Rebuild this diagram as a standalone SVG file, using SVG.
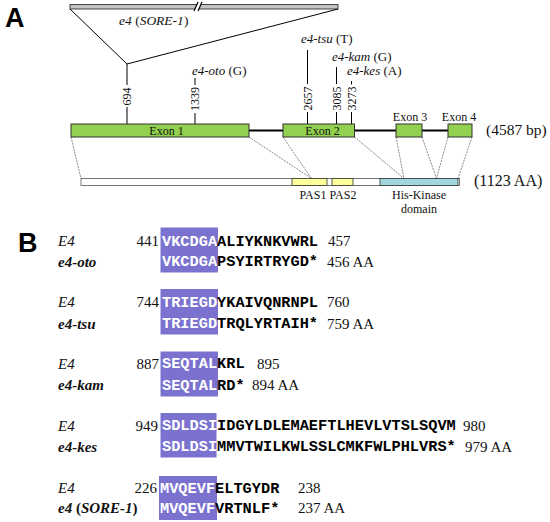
<svg xmlns="http://www.w3.org/2000/svg" width="550" height="522" viewBox="0 0 550 522">
<style>
.ser{font-family:"Liberation Serif","Times New Roman",serif;fill:#111}
.it{font-style:italic}
.bd{font-weight:bold}
.pl{font-family:"Liberation Sans",Arial,sans-serif;font-weight:bold;font-size:27px;fill:#000}
.num{font-family:"Liberation Serif","Times New Roman",serif;font-size:12px;fill:#111;text-anchor:middle}
.exon{fill:#92d050;stroke:#333;stroke-width:1}
.seq{font-family:"Liberation Mono","Courier New",monospace;font-weight:bold;font-size:15.3px;fill:#000}
.hl{fill:#fff}
.box{fill:#7b72cf}
.dot{stroke:#555;stroke-width:0.7;stroke-dasharray:2 1;fill:none}
.ln{stroke:#000;stroke-width:1;fill:none}
.lbl{font-size:15px}
</style>

<text class="pl" x="5" y="27">A</text>
<text class="pl" x="18" y="252">B</text>

<g id="genomic-insert">
  <rect x="70" y="4.5" width="268" height="4.5" fill="#c4c4c4" stroke="#333" stroke-width="0.9"/>
  <polygon points="194,11 198,2 202,2 198,11" fill="#fff"/>
  <line x1="194" y1="11" x2="198" y2="2" stroke="#000" stroke-width="1.2"/>
  <line x1="198" y1="11" x2="202" y2="2" stroke="#000" stroke-width="1.2"/>
  <text class="ser" x="119" y="25" font-size="13.5"><tspan class="it">e4</tspan> (<tspan class="it">SORE-1</tspan>)</text>
</g>

<g id="connectors">
  <line class="ln" x1="70" y1="9" x2="127" y2="64"/>
  <line class="ln" x1="338" y1="9" x2="127" y2="64"/>
  <!-- 694 -->
  <line class="ln" x1="127" y1="64" x2="127" y2="85"/>
  <line class="ln" x1="127" y1="107" x2="127" y2="124"/>
  <!-- 1339 -->
  <line class="ln" x1="195" y1="78" x2="195" y2="85"/>
  <line class="ln" x1="195" y1="113" x2="195" y2="124"/>
  <!-- 2657 -->
  <line class="ln" x1="307.5" y1="50" x2="307.5" y2="84"/>
  <line class="ln" x1="307.5" y1="112" x2="307.5" y2="124"/>
  <!-- 3085 -->
  <line class="ln" x1="336.5" y1="67" x2="336.5" y2="84"/>
  <line class="ln" x1="336.5" y1="112" x2="336.5" y2="124"/>
  <!-- 3273 -->
  <line class="ln" x1="351.5" y1="81" x2="351.5" y2="84.5"/>
  <line class="ln" x1="351.5" y1="112" x2="351.5" y2="124"/>
  <!-- introns -->
  <line x1="249" y1="130.5" x2="283" y2="130.5" stroke="#000" stroke-width="2"/>
  <line x1="354.5" y1="130.5" x2="396" y2="130.5" stroke="#000" stroke-width="2"/>
  <line x1="422" y1="130.5" x2="448" y2="130.5" stroke="#000" stroke-width="2"/>
  <!-- exon to protein mapping -->
  <line class="dot" x1="71" y1="137" x2="81" y2="178.5"/>
  <line class="dot" x1="249" y1="137" x2="311.5" y2="178.5"/>
  <line class="dot" x1="283" y1="137" x2="311.5" y2="178.5"/>
  <line class="dot" x1="354.5" y1="137" x2="404" y2="178.5"/>
  <line class="dot" x1="396" y1="137" x2="404" y2="178.5"/>
  <line class="dot" x1="422" y1="137" x2="436.5" y2="178.5"/>
  <line class="dot" x1="448" y1="137" x2="436.5" y2="178.5"/>
  <line class="dot" x1="472" y1="137" x2="458" y2="178.5"/>
</g>

<g id="mutation-labels">
  <text class="num" transform="translate(131.3,96.5) rotate(-90)">694</text>
  <text class="num" transform="translate(199.3,99) rotate(-90)">1339</text>
  <text class="num" transform="translate(311.8,98.5) rotate(-90)">2657</text>
  <text class="num" transform="translate(340.8,98.5) rotate(-90)">3085</text>
  <text class="num" transform="translate(355.8,98.5) rotate(-90)">3273</text>
  <text class="ser" x="192" y="75" font-size="13"><tspan class="it">e4-oto</tspan> (G)</text>
  <text class="ser" x="301" y="43" font-size="13"><tspan class="it">e4-tsu</tspan> (T)</text>
  <text class="ser" x="332" y="61" font-size="13"><tspan class="it">e4-kam</tspan> (G)</text>
  <text class="ser" x="347" y="75" font-size="13"><tspan class="it">e4-kes</tspan> (A)</text>
</g>

<g id="exon1">
  <rect class="exon" x="71" y="124" width="178" height="13"/>
  <text class="ser" x="166.5" y="134.5" font-size="12" text-anchor="middle">Exon 1</text>
</g>
<g id="exon2">
  <rect class="exon" x="283" y="124" width="71.5" height="13"/>
  <text class="ser" x="322.5" y="134.5" font-size="12" text-anchor="middle">Exon 2</text>
</g>
<g id="exon3">
  <rect class="exon" x="396" y="124" width="26" height="13"/>
  <text class="ser" x="410" y="120.5" font-size="12" text-anchor="middle">Exon 3</text>
</g>
<g id="exon4">
  <rect class="exon" x="448" y="124" width="24" height="13"/>
  <text class="ser" x="459" y="120.5" font-size="12" text-anchor="middle">Exon 4</text>
</g>
<text class="ser" x="486" y="135" font-size="15.5">(4587 bp)</text>

<g id="protein">
  <rect x="81" y="178.5" width="378.5" height="7" fill="#fff" stroke="#555" stroke-width="0.8"/>
  <rect x="292" y="178.5" width="35" height="7" fill="#ffff99" stroke="#333" stroke-width="0.8"/>
  <rect x="332" y="178.5" width="21" height="7" fill="#ffff99" stroke="#333" stroke-width="0.8"/>
  <rect x="380" y="178.5" width="78" height="7" fill="#a0d6dc" stroke="#333" stroke-width="0.8"/>
  <text class="ser" x="313" y="199" font-size="12" text-anchor="middle">PAS1</text>
  <text class="ser" x="343" y="199" font-size="12" text-anchor="middle">PAS2</text>
  <text class="ser" x="419" y="198.5" font-size="12" text-anchor="middle">His-Kinase</text>
  <text class="ser" x="419" y="212.5" font-size="12" text-anchor="middle">domain</text>
  <text class="ser" x="474" y="186" font-size="16">(1123 AA)</text>
</g>

<g id="row-oto">
  <rect class="box" x="160.5" y="227.5" width="57.5" height="45"/>
  <text class="ser it lbl" x="58" y="246">E4</text>
  <text class="ser it bd lbl" x="58" y="266.5">e4-oto</text>
  <text class="ser lbl" x="159" y="246" text-anchor="end">441</text>
  <text class="seq" x="162" y="245.5"><tspan class="hl">VKCDGA</tspan>ALIYKNKVWRL</text>
  <text class="seq" x="162" y="266"><tspan class="hl">VKCDGA</tspan>PSYIRTRYGD*</text>
  <text class="ser lbl" x="328" y="246">457</text>
  <text class="ser lbl" x="327" y="266.5">456 AA</text>
</g>

<g id="row-tsu">
  <rect class="box" x="160.5" y="289" width="57.5" height="45.5"/>
  <text class="ser it lbl" x="58" y="307">E4</text>
  <text class="ser it bd lbl" x="58" y="328.5">e4-tsu</text>
  <text class="ser lbl" x="159" y="307" text-anchor="end">744</text>
  <text class="seq" x="162" y="306.5"><tspan class="hl">TRIEGD</tspan>YKAIVQNRNPL</text>
  <text class="seq" x="162" y="328"><tspan class="hl">TRIEGD</tspan>TRQLYRTAIH*</text>
  <text class="ser lbl" x="327" y="307">760</text>
  <text class="ser lbl" x="327" y="328.5">759 AA</text>
</g>

<g id="row-kam">
  <rect class="box" x="160.5" y="351.5" width="57.5" height="45"/>
  <text class="ser it lbl" x="58" y="368.5">E4</text>
  <text class="ser it bd lbl" x="58" y="390">e4-kam</text>
  <text class="ser lbl" x="159" y="368.5" text-anchor="end">887</text>
  <text class="seq" x="162" y="368"><tspan class="hl">SEQTAL</tspan>KRL</text>
  <text class="seq" x="162" y="389.5"><tspan class="hl">SEQTAL</tspan>RD*</text>
  <text class="ser lbl" x="257" y="368.5">895</text>
  <text class="ser lbl" x="252" y="390">894 AA</text>
</g>

<g id="row-kes">
  <rect class="box" x="160.5" y="413" width="56" height="44.5"/>
  <text class="ser it lbl" x="58" y="430.5">E4</text>
  <text class="ser it bd lbl" x="58" y="451.5">e4-kes</text>
  <text class="ser lbl" x="158" y="430.5" text-anchor="end">949</text>
  <text class="seq" x="162" y="430"><tspan class="hl">SDLDSI</tspan>IDGYLDLEMAEFTLHEVLVTSLSQVM</text>
  <text class="seq" x="162" y="451"><tspan class="hl">SDLDSI</tspan>MMVTWILKWLSSLCMKFWLPHLVRS*</text>
  <text class="ser lbl" x="463" y="430.5">980</text>
  <text class="ser lbl" x="465" y="451.5">979 AA</text>
</g>

<g id="row-sore1">
  <rect class="box" x="159" y="476" width="58" height="44"/>
  <text class="ser it lbl" x="58" y="493">E4</text>
  <text class="ser bd lbl" x="58" y="513"><tspan class="it">e4</tspan> (<tspan class="it">SORE-1</tspan>)</text>
  <text class="ser lbl" x="157" y="493" text-anchor="end">226</text>
  <text class="seq" x="160" y="492.5"><tspan class="hl">MVQEVF</tspan>ELTGYDR</text>
  <text class="seq" x="160" y="512.5"><tspan class="hl">MVQEVF</tspan>VRTNLF*</text>
  <text class="ser lbl" x="298" y="493">238</text>
  <text class="ser lbl" x="298" y="513">237 AA</text>
</g>
</svg>
